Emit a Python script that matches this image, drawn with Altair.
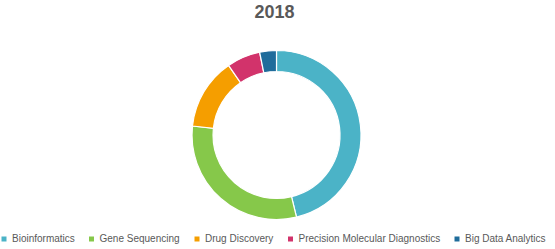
import altair as alt
import pandas as pd

categories = ["Bioinformatics", "Gene Sequencing", "Drug Discovery",
              "Precision Molecular Diagnostics", "Big Data Analytics"]
values = [46.2, 30.5, 13.7, 6.4, 3.2]
colors = ["#4BB3C7", "#86C84A", "#F59E00", "#D2336B", "#1F6C9B"]
title_text = "2018"

df = pd.DataFrame({"category": categories, "value": values,
                   "idx": list(range(len(categories)))})

arc = alt.Chart(df).mark_arc(radius=84.5, radius2=63.5, stroke="white",
                             strokeWidth=1.2).encode(
    theta=alt.Theta("value:Q", stack=True),
    order=alt.Order("idx:Q"),
    x=alt.value(276.5),
    y=alt.value(135),
    color=alt.Color("category:N",
                    scale=alt.Scale(domain=categories, range=colors),
                    sort=categories,
                    legend=alt.Legend(
                        title=None, orient="none", direction="horizontal",
                        legendX=-1, legendY=234, symbolType="square",
                        symbolSize=25, symbolStrokeWidth=0,
                        labelFont="Liberation Sans", labelFontSize=10,
                        labelColor="#595959", labelOffset=3,
                        columnPadding=11.5, labelLimit=300)),
)

title = alt.Chart(pd.DataFrame({"t": [title_text]})).mark_text(
    font="Liberation Sans", fontSize=18, fontWeight="bold", color="#595959",
    align="center", baseline="alphabetic").encode(
    text="t:N", x=alt.value(274.5), y=alt.value(17.5))

chart = alt.layer(arc, title).properties(
    width=555, height=249, padding=0,
    autosize=alt.AutoSizeParams(type="none"),
).configure_view(stroke=None)

chart.save("out.html", embed_options={"renderer": "svg", "actions": False})
